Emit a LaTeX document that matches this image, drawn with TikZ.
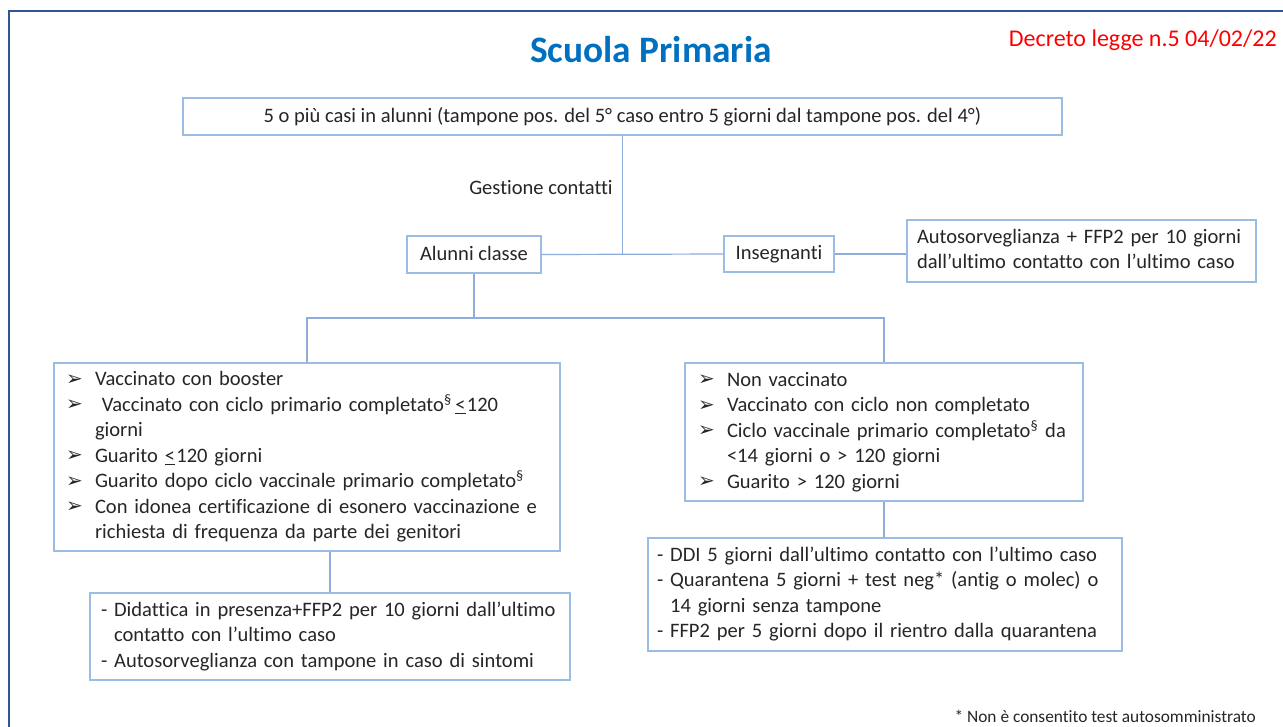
\documentclass[tikz,border=0pt]{standalone}
\usepackage{fontspec}
\setmainfont{Carlito}[Ligatures=NoCommon]
\newfontfamily\dejavu{DejaVu Sans}
\usetikzlibrary{calc}
\definecolor{frameblue}{RGB}{47,85,151}
\definecolor{boxblue}{RGB}{155,189,227}
\definecolor{lineblue}{RGB}{143,172,220}
\definecolor{titleblue}{RGB}{0,112,192}
\definecolor{txt}{RGB}{38,38,38}
\newcommand\bul{\makebox[21.75pt][l]{\raisebox{0.3pt}{\dejavu\fontsize{15}{13}\selectfont ➢}}}
\newcommand\hang{\hspace*{21.75pt}}
\newcommand\dashind{\hphantom{-}\ }
\newcommand\uleq{\underline{<}\hspace{1pt}}
\begin{document}
\begin{tikzpicture}[x=0.75pt,y=-0.75pt,
  every node/.style={text=txt},
  box/.style={draw=boxblue, line width=0.9pt, fill=white, inner sep=0pt,
    font=\fontsize{15.4}{19.1}\selectfont, align=left},
  sbox/.style={draw=boxblue, line width=0.9pt, fill=white, inner sep=0pt,
    font=\fontsize{15.4}{19.1}\selectfont, align=center, text height=11.5pt, text depth=2.8pt},
  plain/.style={inner sep=0pt},
  conn/.style={draw=lineblue, line width=0.9pt}]
\useasboundingbox (0,0) rectangle (1283,726);
\fill[white] (0,0) rectangle (1283,726);
\draw[frameblue, line width=1.8pt] (1283,11) -- (9,11) -- (9,727);

\node[plain, font=\fontsize{28}{34}\selectfont\bfseries, text=titleblue] (title) at (651,50) {Scuola Primaria};
\node[plain, anchor=east, text=red, font=\fontsize{18}{22}\selectfont] (decree) at (1277,40) {Decreto legge n.5 04/02/22};

\node[sbox, minimum width=659.25pt, minimum height=27.75pt] (top) at (622.5,116.5)
  {5 o più casi in alunni (tampone pos. del 5° caso entro 5 giorni dal tampone pos. del 4°)};
\node[plain, font=\fontsize{15.4}{19.1}\selectfont] (gest) at (541,188) {Gestione contatti};

\node[sbox, minimum width=100.5pt, minimum height=27.75pt] (alu) at (474,254.5) {Alunni classe};
\node[sbox, minimum width=82.5pt, minimum height=27pt] (ins) at (779,254) {Insegnanti};
\node[box, minimum width=261.75pt, minimum height=46.5pt, text width=246.75pt] (auto) at (1081.5,251)
  {\begin{tabular}{@{}l@{}}Autosorveglianza + FFP2 per 10 giorni\\ dall’ultimo contatto con l’ultimo caso\end{tabular}};

\node[box, minimum width=379.5pt, minimum height=141pt, text width=361.5pt] (lft) at (307,457)
  {\begin{tabular}{@{}l@{}}
   \bul Vaccinato con booster\\
   \bul\ Vaccinato con ciclo primario completato\textsuperscript{\S}\,\uleq120\\
   \hang giorni\\
   \bul Guarito \uleq120 giorni\\
   \bul Guarito dopo ciclo vaccinale primario completato\textsuperscript{\S}\\
   \bul Con idonea certificazione di esonero vaccinazione e\\
   \hang richiesta di frequenza da parte dei genitori
   \end{tabular}};

\node[box, minimum width=298.5pt, minimum height=103.5pt, text width=279pt] (rgt) at (884,432)
  {\begin{tabular}{@{}l@{}}
   \bul Non vaccinato\\
   \bul Vaccinato con ciclo non completato\\
   \bul Ciclo vaccinale primario completato\textsuperscript{\S} da\\
   \hang <14 giorni o > 120 giorni\\
   \bul Guarito > 120 giorni
   \end{tabular}};

\node[box, minimum width=360pt, minimum height=65.25pt, text width=343.5pt] (lres) at (330,636.5)
  {\begin{tabular}{@{}l@{}}
   - Didattica in presenza+FFP2 per 10 giorni dall’ultimo\\
   \dashind contatto con l’ultimo caso\\
   - Autosorveglianza con tampone in caso di sintomi
   \end{tabular}};

\node[box, minimum width=355.5pt, minimum height=84.75pt, text width=342pt] (rres) at (885,594.5)
  {\begin{tabular}{@{}l@{}}
   - DDI 5 giorni dall’ultimo contatto con l’ultimo caso\\
   - Quarantena 5 giorni + test neg* (antig o molec) o\\
   \dashind 14 giorni senza tampone\\
   - FFP2 per 5 giorni dopo il rientro dalla quarantena
   \end{tabular}};

\node[plain, anchor=east, font=\fontsize{13}{16}\selectfont] (note) at (1256,716) {* Non è consentito test autosomministrato};

\coordinate (split) at (475,318);
\draw[conn] (top.south) -- (top.south |- alu.east);
\draw[conn] (alu.east) -- (ins.west);
\draw[conn] (ins.east) -- (ins.east -| auto.west);
\draw[conn] (alu.south) -- (alu.south |- split);
\draw[conn] (lft.north) -- (lft.north |- split) -- (rgt.north |- split) -- (rgt.north);
\draw[conn] (rgt.south) -- (rgt.south |- rres.north);
\draw[conn] (lres.north) -- (lres.north |- lft.south);
\end{tikzpicture}
\end{document}
